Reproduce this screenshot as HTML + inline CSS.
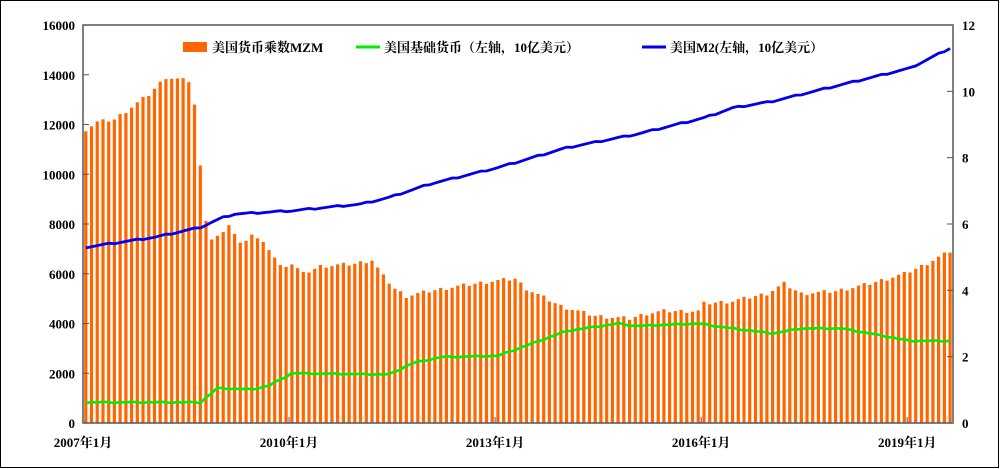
<!DOCTYPE html><html><head><meta charset="utf-8"><style>body{margin:0;background:#fff}svg{display:block}text{font-family:"Liberation Serif","Noto Serif CJK SC",serif;font-weight:bold;font-size:13px;fill:#000}</style></head><body>
<svg id="s" width="1000" height="469" xmlns="http://www.w3.org/2000/svg">
<rect x="0.5" y="0.5" width="998" height="467" fill="#fff" stroke="#000"/>
<g id="bars"></g>
<polyline id="g" fill="none" stroke="#00ee00" stroke-width="2.6"/>
<polyline id="b" fill="none" stroke="#0000ee" stroke-width="2.8"/>
<rect x="83" y="25" width="870" height="398" fill="none" stroke="#555" stroke-width="1.5"/>
<g id="ax"></g>
<rect x="183" y="42" width="24" height="10" fill="#ff6600"/>
<text x="212" y="52">美国货币乘数MZM</text>
<line x1="356" y1="47" x2="380" y2="47" stroke="#00ee00" stroke-width="3"/>
<text x="384" y="52">美国基础货币（左轴，10亿美元）</text>
<line x1="642" y1="47" x2="666" y2="47" stroke="#0000ee" stroke-width="3"/>
<text x="670" y="52">美国M2(左轴，10亿美元）</text>
</svg>
<script>
const X0=83,Y0=423,H=398,N=152,dx=870/N;
function interp(a,i){for(let k=0;k<a.length-1;k++){if(i>=a[k][0]&&i<=a[k+1][0]){let t=(i-a[k][0])/(a[k+1][0]-a[k][0]);return a[k][1]+t*(a[k+1][1]-a[k][1]);}}return a[a.length-1][1];}
const m=(y,mo)=>(y-2007)*12+(mo-1);
const bars=[[m(2007,1),11800],[m(2007,3),12100],[m(2007,6),12200],[m(2007,9),12700],[m(2007,12),13200],[m(2008,3),13900],[m(2008,7),13750],[m(2008,8),12800],[m(2008,9),10300],[m(2008,10),8200],[m(2008,11),7400],[m(2009,1),7600],[m(2009,2),8000],[m(2009,4),7200],[m(2009,6),7600],[m(2009,9),7000],[m(2009,11),6300],[m(2010,1),6400],[m(2010,3),6000],[m(2010,6),6300],[m(2010,12),6400],[m(2011,3),6550],[m(2011,5),5900],[m(2011,7),5400],[m(2011,9),5100],[m(2012,1),5300],[m(2012,6),5500],[m(2012,12),5700],[m(2013,4),5800],[m(2013,6),5400],[m(2013,12),4700],[m(2014,6),4300],[m(2014,12),4200],[m(2015,3),4400],[m(2015,6),4500],[m(2015,12),4500],[m(2016,1),4800],[m(2016,6),4900],[m(2016,12),5200],[m(2017,3),5600],[m(2017,6),5200],[m(2017,12),5300],[m(2018,6),5600],[m(2018,12),6000],[m(2019,3),6300],[m(2019,8),6900]];
const gr=[[0,830],[m(2008,9),830],[m(2008,12),1400],[m(2009,6),1350],[m(2009,9),1500],[m(2010,1),2000],[m(2011,6),1950],[m(2011,10),2400],[m(2012,3),2650],[m(2013,1),2700],[m(2014,1),3700],[m(2014,10),4000],[m(2015,1),3900],[m(2015,12),4000],[m(2016,6),3800],[m(2017,1),3600],[m(2017,6),3800],[m(2018,1),3800],[m(2018,6),3600],[m(2019,1),3300],[m(2019,8),3300]];
const bl=[[0,5.3],[m(2008,1),5.6],[m(2008,9),5.9],[m(2009,1),6.2],[m(2009,3),6.3],[m(2010,1),6.4],[m(2011,1),6.6],[m(2011,6),6.8],[m(2012,1),7.2],[m(2013,1),7.7],[m(2014,1),8.3],[m(2015,1),8.7],[m(2016,1),9.2],[m(2016,6),9.5],[m(2017,1),9.7],[m(2018,1),10.2],[m(2019,1),10.7],[m(2019,8),11.3]];
let bh="",gp=[],bp=[];
for(let i=0;i<N;i++){let v=interp(bars,i)+((i*37)%7-3)*25;let h=v/16000*H;let x=X0+i*dx+1.2;bh+=`<rect x="${x.toFixed(1)}" y="${(Y0-h).toFixed(1)}" width="3.2" height="${h.toFixed(1)}" fill="#ff6600"/>`;
let cx=X0+i*dx+dx/2;gp.push(cx.toFixed(1)+","+(Y0-(interp(gr,i)+((i*13)%5-2)*15)/16000*H).toFixed(1));bp.push(cx.toFixed(1)+","+(Y0-(interp(bl,i)+((i*11)%5-2)*0.01)/12*H).toFixed(1));}
document.getElementById("bars").innerHTML=bh;
document.getElementById("g").setAttribute("points",gp.join(" "));
document.getElementById("b").setAttribute("points",bp.join(" "));
let a="";
for(let k=0;k<=8;k++){let y=Y0-k*H/8;a+=`<line x1="83" y1="${y}" x2="89" y2="${y}" stroke="#555"/><text x="75" y="${y+5}" text-anchor="end">${k*2000}</text>`;}
for(let k=0;k<=6;k++){let y=Y0-k*H/6;a+=`<line x1="947" y1="${y}" x2="953" y2="${y}" stroke="#555"/><text x="962" y="${y+5}">${k*2}</text>`;}
["2007","2010","2013","2016","2019"].forEach((t,j)=>{let x=X0+j*36*dx;a+=`<line x1="${x}" y1="417" x2="${x}" y2="423" stroke="#555"/><text x="${x}" y="447" text-anchor="middle">${t}年1月</text>`;});
document.getElementById("ax").innerHTML=a;
</script></body></html>
